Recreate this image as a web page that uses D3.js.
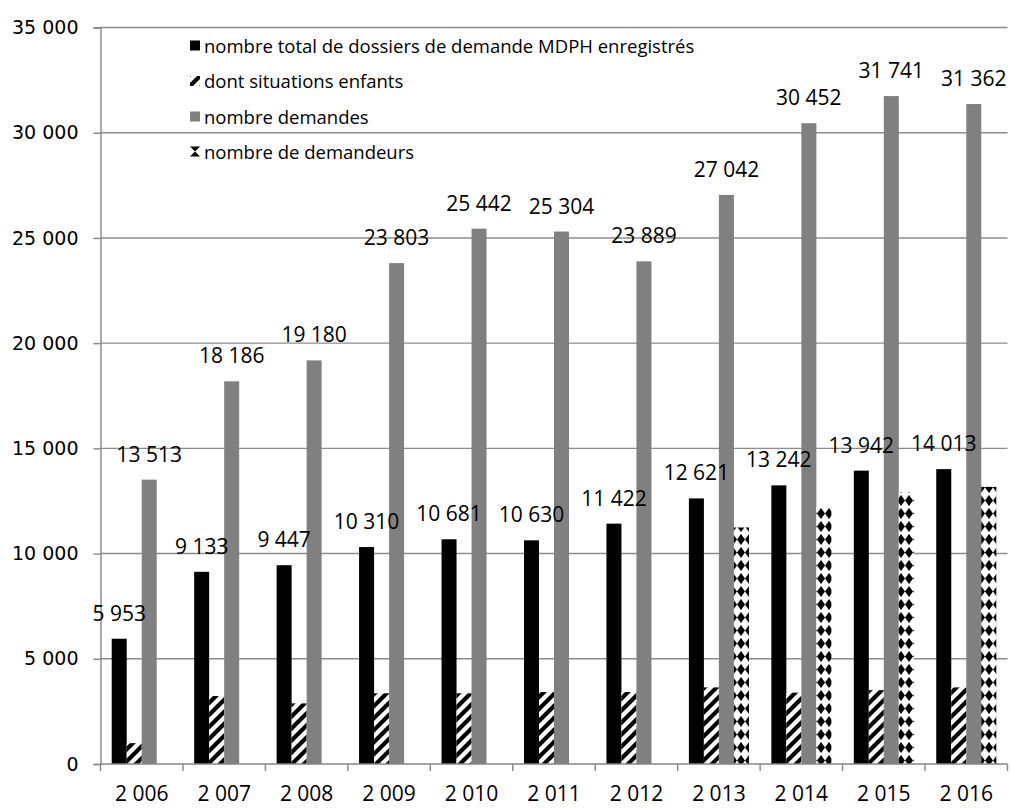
<!DOCTYPE html>
<html>
<head>
<meta charset="utf-8">
<script src="https://cdn.jsdelivr.net/npm/d3@7"></script>
<style>
  html, body { margin: 0; padding: 0; background: #fff; }
  svg { display: block; }
  text { font-family: "Open Sans", "DejaVu Sans", sans-serif; fill: #000; }
</style>
</head>
<body>
<svg id="chart" width="1010" height="808"></svg>
<script>
// Years shown on the category axis
const years = ["2 006", "2 007", "2 008", "2 009", "2 010", "2 011", "2 012", "2 013", "2 014", "2 015", "2 016"];

// Series values per year
const dossiersTotal = [5953, 9133, 9447, 10310, 10681, 10630, 11422, 12621, 13242, 13942, 14013];
const situationsEnfants = [990, 3230, 2880, 3360, 3360, 3420, 3420, 3640, 3390, 3510, 3640];
const nombreDemandes = [13513, 18186, 19180, 23803, 25442, 25304, 23889, 27042, 30452, 31741, 31362];
const nombreDemandeurs = [null, null, null, null, null, null, null, 11240, 12190, 12930, 13170];

// Series names, in legend order
const seriesNames = [
  "nombre total de dossiers de demande MDPH enregistrés",
  "dont situations enfants",
  "nombre demandes",
  "nombre de demandeurs"
];

// Value-axis ticks
const yTicks = [0, 5000, 10000, 15000, 20000, 25000, 30000, 35000];

const svg = d3.select("#chart");
const defs = svg.append("defs");

// Upward diagonal hatch
const hatch = defs.append("pattern")
  .attr("id", "hatch").attr("patternUnits", "userSpaceOnUse")
  .attr("width", 12).attr("height", 12);
hatch.append("rect").attr("width", 12).attr("height", 12).attr("fill", "#fff");
hatch.append("path")
  .attr("d", "M-3,3 L3,-3 M0,12 L12,0 M9,15 L15,9")
  .attr("stroke", "#000").attr("stroke-width", 4.2);

// Solid diamond pattern
const diamonds = defs.append("pattern")
  .attr("id", "diamonds").attr("patternUnits", "userSpaceOnUse")
  .attr("x", 1).attr("width", 8).attr("height", 13);
diamonds.append("rect").attr("width", 8).attr("height", 13).attr("fill", "#fff");
diamonds.append("path")
  .attr("d", "M4,1 L8,6.5 L4,12 L0,6.5 Z")
  .attr("fill", "#000");

const fills = ["#000", "url(#hatch)", "#808080", "url(#diamonds)"];

const plot = { left: 100.5, right: 1007.5, top: 27.5, bottom: 764 };

const x0 = d3.scaleBand().domain(years).range([plot.left, plot.right]).paddingInner(0).paddingOuter(0);
const bw = x0.bandwidth();
const x1 = d3.scaleBand().domain(d3.range(4)).range([bw * 0.136, bw * 0.864]).padding(0);
const y = d3.scaleLinear().domain([0, 35000]).range([plot.bottom, plot.top]);

const fmt = v => d3.format(",")(v).replace(/,/g, " ");

// Horizontal gridlines
svg.append("g").selectAll("line")
  .data(yTicks.filter(t => t > 0))
  .join("line")
  .attr("x1", plot.left).attr("x2", plot.right)
  .attr("y1", d => y(d)).attr("y2", d => y(d))
  .attr("stroke", "#8c8c8c").attr("stroke-width", 1.4);

// Bars
const series = [dossiersTotal, situationsEnfants, nombreDemandes, nombreDemandeurs];
const barG = svg.append("g");
series.forEach((vals, si) => {
  barG.append("g").selectAll("rect")
    .data(vals.map((v, i) => ({ v, year: years[i] })).filter(d => d.v != null))
    .join("rect")
    .attr("x", d => x0(d.year) + x1(si))
    .attr("width", x1.bandwidth())
    .attr("y", d => y(d.v))
    .attr("height", d => y(0) - y(d.v))
    .attr("fill", fills[si]);
});

// Y axis
const yAxis = svg.append("g")
  .attr("transform", `translate(${plot.left},0)`)
  .call(d3.axisLeft(y).tickValues(yTicks).tickFormat(fmt).tickSize(7).tickPadding(15));
yAxis.select(".domain").attr("stroke", "#868686").attr("stroke-width", 1.4);
yAxis.selectAll(".tick line").attr("stroke", "#868686").attr("stroke-width", 1.4);
yAxis.selectAll(".tick text")
  .style("font-family", '"DejaVu Sans", sans-serif').style("font-size", "19px").attr("fill", "#000");

// X axis with ticks on category boundaries
const xAxis = svg.append("g").attr("transform", `translate(0,${plot.bottom})`);
xAxis.append("line")
  .attr("x1", plot.left).attr("x2", plot.right)
  .attr("stroke", "#868686").attr("stroke-width", 1.4);
xAxis.selectAll("line.tick")
  .data(years.concat(["end"]))
  .join("line").attr("class", "tick")
  .attr("x1", (d, i) => plot.left + i * bw).attr("x2", (d, i) => plot.left + i * bw)
  .attr("y1", 0).attr("y2", 7)
  .attr("stroke", "#868686").attr("stroke-width", 1.4);
xAxis.selectAll("text")
  .data(years)
  .join("text")
  .attr("x", d => x0(d) + bw / 2)
  .attr("y", 37)
  .attr("text-anchor", "middle")
  .style("font-size", "21px")
  .text(d => d);

// Value labels for the total and the requests series
const labelG = svg.append("g");
[0, 2].forEach(si => {
  labelG.append("g").selectAll("text")
    .data(series[si].map((v, i) => ({ v, year: years[i] })))
    .join("text")
    .attr("x", d => x0(d.year) + x1(si) + x1.bandwidth() / 2)
    .attr("y", d => y(d.v) - 18)
    .attr("text-anchor", "middle")
    .style("font-size", "21px")
    .text(d => fmt(d.v));
});

// Legend
const legend = svg.append("g");
const baselines = [52.5, 88, 123.5, 158.5];
seriesNames.forEach((name, i) => {
  const sy = baselines[i] - 12;
  if (i === 3) {
    // key for the diamond series: two facing triangles
    legend.append("path")
      .attr("d", `M190,${sy} L200,${sy} L195,${sy + 5} Z M190,${sy + 10} L200,${sy + 10} L195,${sy + 5} Z`)
      .attr("fill", "#000");
  } else {
    legend.append("rect")
      .attr("x", 190).attr("y", sy)
      .attr("width", 10).attr("height", 10)
      .attr("fill", fills[i]);
  }
  legend.append("text")
    .attr("x", 204).attr("y", baselines[i])
    .style("font-size", "18.5px")
    .text(name);
});
</script>
</body>
</html>
